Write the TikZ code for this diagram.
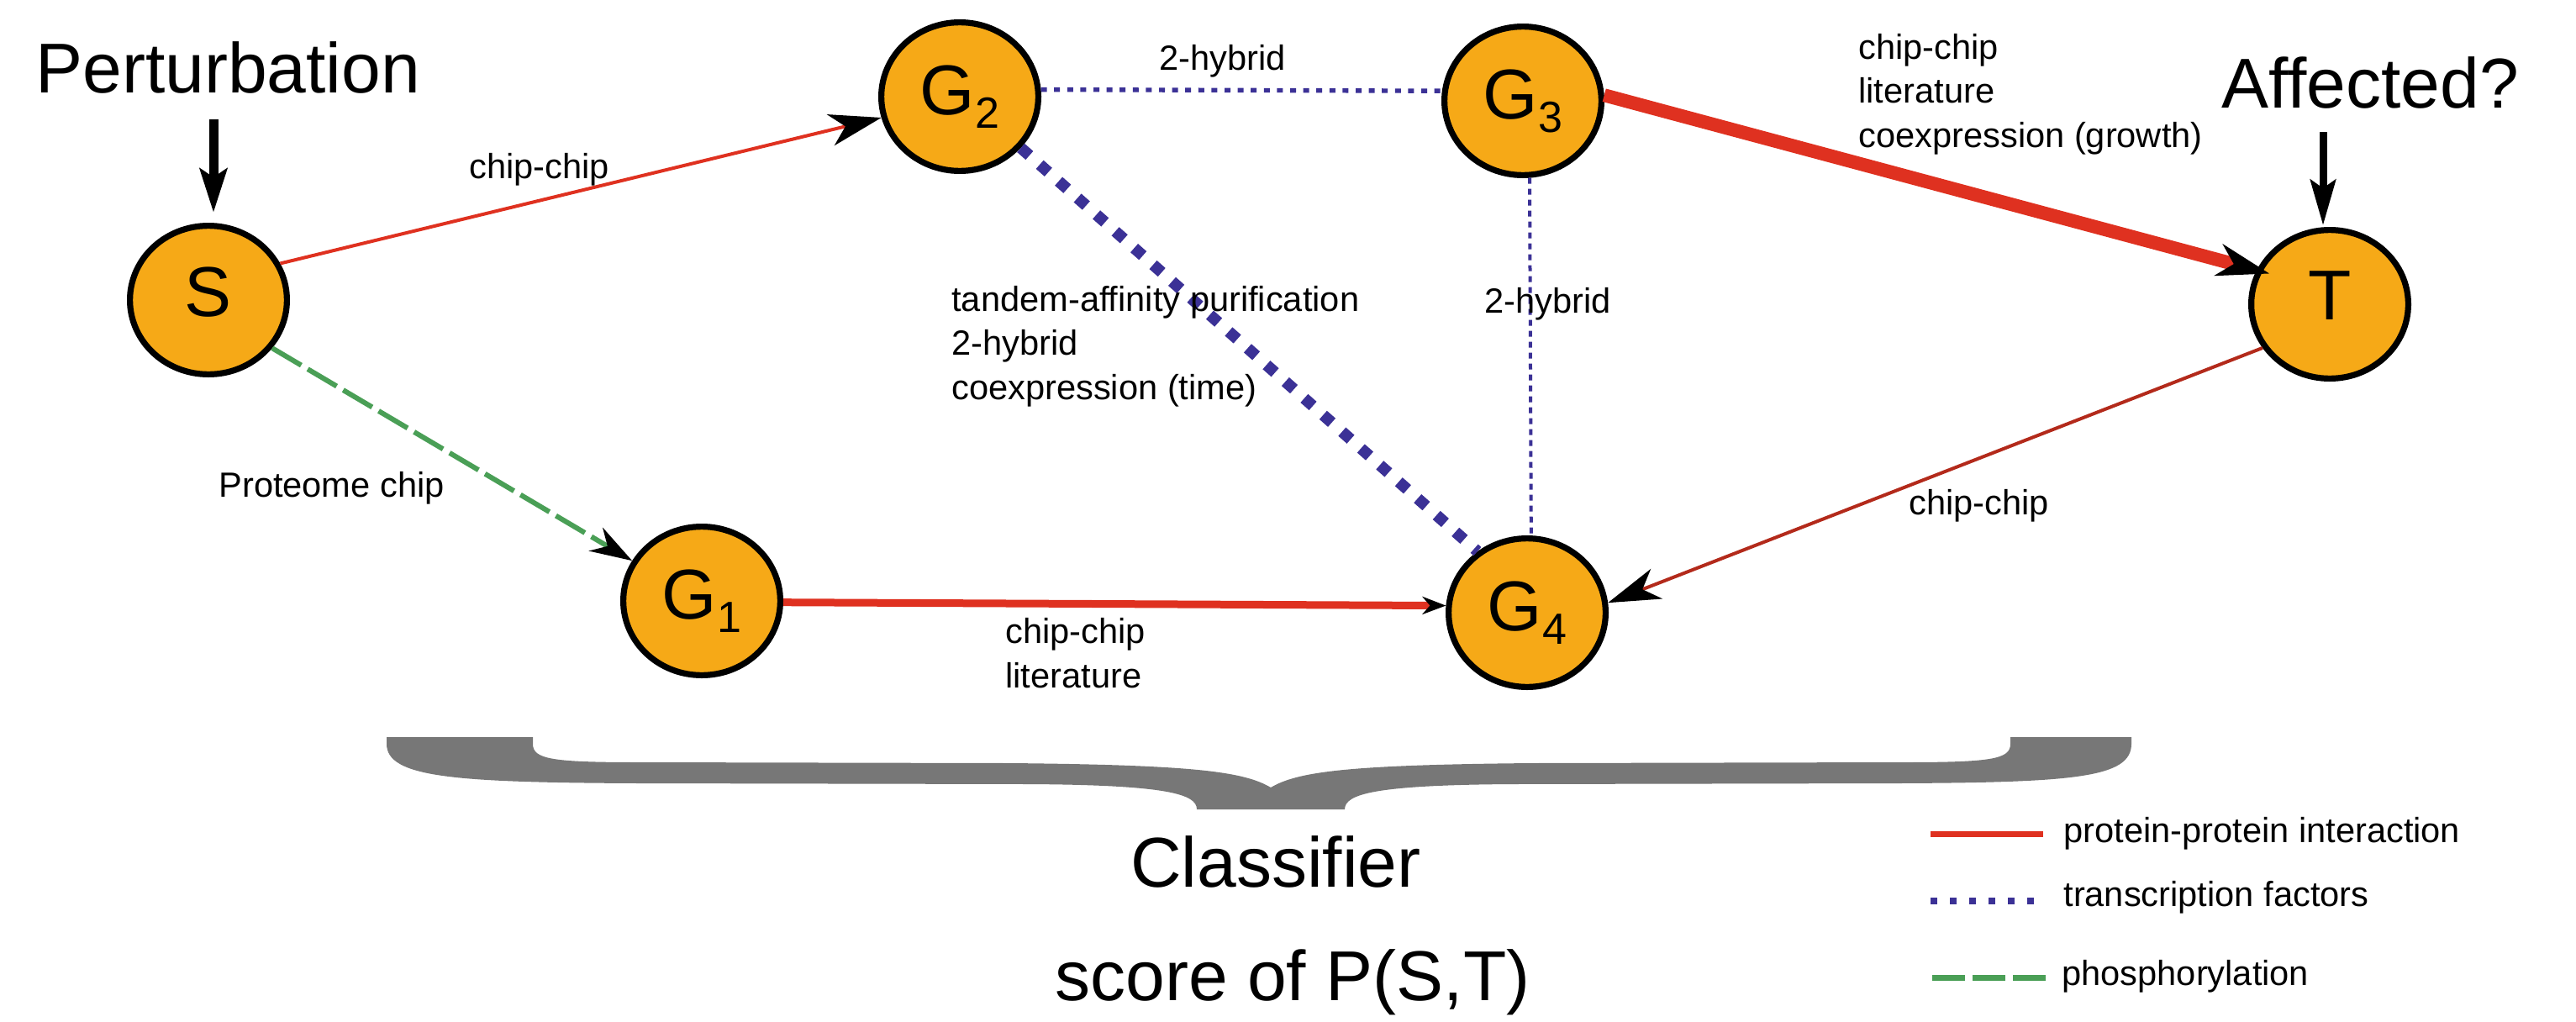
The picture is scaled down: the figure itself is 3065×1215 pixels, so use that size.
\documentclass[tikz,border=0pt]{standalone}
\usepackage{fontspec}
\setmainfont{Liberation Sans}
\usetikzlibrary{arrows.meta,shapes.geometric}
\definecolor{nodeorange}{HTML}{F6A917}
\definecolor{ppared}{HTML}{DF3120}
\definecolor{ppbrown}{HTML}{B32A1B}
\definecolor{tfblue}{HTML}{3B3196}
\definecolor{phgreen}{HTML}{4A9F56}
\definecolor{bracegray}{HTML}{777777}
\begin{document}
\begin{tikzpicture}[x=0.5pt,y=-0.5pt,
  gene/.style={ellipse, draw=black, line width=3.6pt, fill=nodeorange,
    minimum width=93.4pt, minimum height=88.4pt, inner sep=0pt,
    font=\fontsize{42}{42}\selectfont},
  lbl/.style={anchor=base west, inner sep=0pt, font=\fontsize{20.8}{26}\selectfont},
  bigtext/.style={inner sep=0pt, font=\fontsize{42}{42}\selectfont},
  bighead/.style={-{Stealth[color=black,length=31pt,width=19pt,inset=9pt]}},
  midhead/.style={-{Stealth[color=black,length=25pt,width=16pt,inset=8pt]}},
  smallhead/.style={-{Stealth[color=black,length=14pt,width=10.5pt,inset=4.5pt]}},
  ppi/.style={draw=ppared},
  tf/.style={draw=tfblue},
  phos/.style={draw=phgreen},
]
\useasboundingbox (0,0) rectangle (3065,1215);

% nodes
\node[gene, text depth=10pt] (S) at (248,357) {S};
\node[gene] (G2) at (1142,115) {G\raisebox{-8pt}{\fontsize{26}{26}\selectfont 2}};
\node[gene] (G3) at (1812,120) {G\raisebox{-8pt}{\fontsize{26}{26}\selectfont 3}};
\node[gene, text depth=10pt] (T) at (2772,362) {T};
\node[gene] (G1) at (835,715) {G\raisebox{-8pt}{\fontsize{26}{26}\selectfont 1}};
\node[gene] (G4) at (1817,729) {G\raisebox{-8pt}{\fontsize{26}{26}\selectfont 4}};

% titles
\node[bigtext, anchor=base west] (pert) at (42,110) {Perturbation};
\node[bigtext, anchor=base west] (aff) at (2643,128) {Affected?};
\node[bigtext, anchor=base] (classifier) at (1518,1055) {Classifier};
\node[bigtext, anchor=base] (score) at (1538,1190) {score of P(S,T)};

\coordinate (pa) at (254,142);
\coordinate (aa) at (2764,157);
\draw[line width=5.5pt, -{Stealth[length=26pt,width=16pt,inset=5pt]}, shorten >=6pt] (pa) -- (pa |- S.north);
\draw[line width=4.5pt, -{Stealth[length=27pt,width=15pt,inset=5pt]}, shorten >=1pt] (aa) -- (aa |- T.north);

% edges
\draw[ppi, line width=2pt, bighead] (S.27) -- (G2.195);
\draw[phos, line width=3pt, dash pattern=on 20pt off 4.5pt, midhead] (S.-37) -- (G1.150);
\draw[ppi, line width=4.5pt, smallhead] (G1.-1) -- (G4.175);
\draw[tf, line width=2.7pt, dash pattern=on 3.5pt off 4.3pt] (G2.5) -- (G3.173);
\draw[tf, line width=6.8pt, dash pattern=on 6.8pt off 8.2pt] (G2.-40) -- (G4.129);
\draw[tf, line width=2pt, dash pattern=on 3.5pt off 3pt] (G3.-85) -- (G4.87);
\draw[ppi, line width=8pt, bighead, shorten >=-8pt] (G3.4) -- (T.155);
\draw[draw=ppbrown, line width=2pt, bighead] (T.213) -- (G4.7);

% edge labels
\node[lbl] (l1) at (558,212) {chip-chip};
\node[lbl] (l2) at (260,591) {Proteome chip};
\node[lbl] (l3) at (1379,83) {2-hybrid};
\node[lbl] (l4) at (1132,370) {\vtop{\baselineskip=26.3pt\hbox{tandem-affinity purification}\hbox{2-hybrid}\hbox{coexpression (time)}}};
\node[lbl] (l5) at (1766,372) {2-hybrid};
\node[lbl] (l6) at (2211,70) {\vtop{\baselineskip=26.3pt\hbox{chip-chip}\hbox{literature}\hbox{coexpression (growth)}}};
\node[lbl] (l7) at (1196,765) {\vtop{\baselineskip=26.5pt\hbox{chip-chip}\hbox{literature}}};
\node[lbl] (l8) at (2271,612) {chip-chip};

% brace
\fill[bracegray]
  (460,877) -- (634,877) -- (634,885) .. controls (634,903) and (655,907) .. (760,907)
  -- (1200,908) .. controls (1420,910) and (1480,918) .. (1512,937)
  -- (1512,963) -- (1424,963) .. controls (1424,945) and (1390,934) .. (1224,933)
  -- (760,932) .. controls (540,931) and (460,925) .. (460,885) -- cycle
  (2536,877) -- (2392,877) -- (2392,885) .. controls (2392,903) and (2371,907) .. (2266,907)
  -- (1824,908) .. controls (1604,910) and (1544,918) .. (1512,937)
  -- (1512,963) -- (1600,963) .. controls (1600,945) and (1634,934) .. (1800,933)
  -- (2260,932) .. controls (2470,931) and (2536,925) .. (2536,885) -- cycle;

% legend
\coordinate (lr1) at (2297,992);  \coordinate (lr2) at (2431,992);
\coordinate (lb1) at (2297,1072); \coordinate (lb2) at (2431,1072);
\coordinate (lg1) at (2299,1163); \coordinate (lg2) at (2435,1163);
\draw[ppi, line width=3.5pt] (lr1) -- (lr2);
\draw[tf, line width=4pt, dash pattern=on 4pt off 7.5pt] (lb1) -- (lb2);
\draw[phos, line width=3.5pt, dash pattern=on 19.5pt off 4.5pt] (lg1) -- (lg2);
\node[lbl] (t1) at (2455,1002) {protein-protein interaction};
\node[lbl] (t2) at (2455,1078) {transcription factors};
\node[lbl] (t3) at (2453,1172) {phosphorylation};
\end{tikzpicture}
\end{document}
